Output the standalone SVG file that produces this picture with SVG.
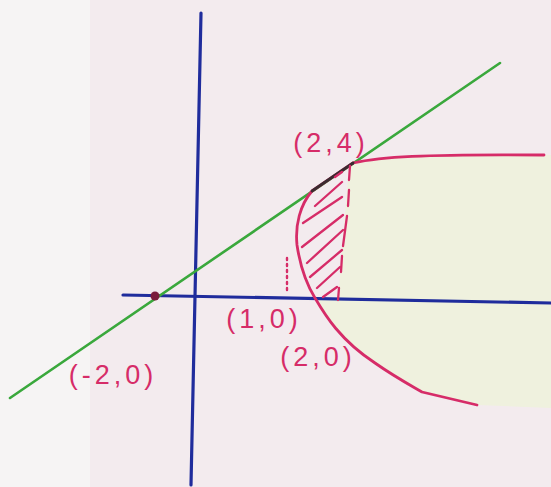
<svg xmlns="http://www.w3.org/2000/svg" width="551" height="487" viewBox="0 0 551 487">
<style>
.axis{stroke:#1f2c9c;stroke-width:3.2;fill:none;stroke-linecap:round}
.line{stroke:#3aa83c;stroke-width:2.6;fill:none;stroke-linecap:round}
.pink{stroke:#d62c68;stroke-width:2.8;fill:none;stroke-linecap:round;stroke-linejoin:round}
.hatch{stroke:#d62c68;stroke-width:2.3;fill:none;stroke-linecap:round}
.lbl{font-family:"Liberation Sans",Arial,sans-serif;font-size:27px;fill:#d62c68;letter-spacing:4px;text-anchor:middle}
</style>
<rect x="0" y="0" width="551" height="487" fill="#f3ebee"/>
<rect x="0" y="0" width="90" height="487" fill="#f6f4f4"/>
<g id="region">
<path d="M350,163 C380,157 420,154 551,155 L551,408 L477,405 L422,392 C410,385 395,377 375,363 C340,340 325,315 318,300 L338,300 L349,165 Z" fill="#eff1de"/>
</g>
<g id="axes">
<line class="axis" x1="201" y1="13" x2="191" y2="485"/>
<line class="axis" x1="123" y1="295" x2="551" y2="303"/>
</g>
<g id="tangent">
<line class="line" x1="10" y1="398" x2="500" y2="63"/>
<circle cx="155" cy="296" r="4.5" fill="#7a1c3c"/>
</g>
<g id="parabola">
<path class="pink" d="M353,163 C380,157 420,154 544,155"/>
<path class="pink" d="M353,163 L312,191 C300,205 295,225 297,245 C300,265 307,285 315,298 C325,315 340,340 375,363 C395,377 410,385 422,392 L477,405"/>
<path d="M353,163 L312,191" stroke="#3b2b30" stroke-width="2.8" stroke-linecap="round"/>
</g>
<g id="hatching">
<path class="hatch" d="M350,166 L349,180 M349,190 L348,206 M347,216 L343,246 M342,256 L341,272 M339,288 L338,300"/>
<path class="hatch" d="M335,177 L342,172 M315,206 L342,182 M303,223 L342,197 M302,247 L343,215 M307,263 L343,230 M310,277 L342,250 M317,288 L340,267 M323,297 L337,287"/>
<path d="M287,258 L287,290" stroke="#d62c68" stroke-width="2.4" stroke-dasharray="2 4" stroke-linecap="round"/>
</g>
<g id="labels">
<text class="lbl" x="331" y="152">(2,4)</text>
<text class="lbl" x="264" y="328">(1,0)</text>
<text class="lbl" x="318" y="366">(2,0)</text>
<text class="lbl" x="113" y="384">(-2,0)</text>
</g>
</svg>
